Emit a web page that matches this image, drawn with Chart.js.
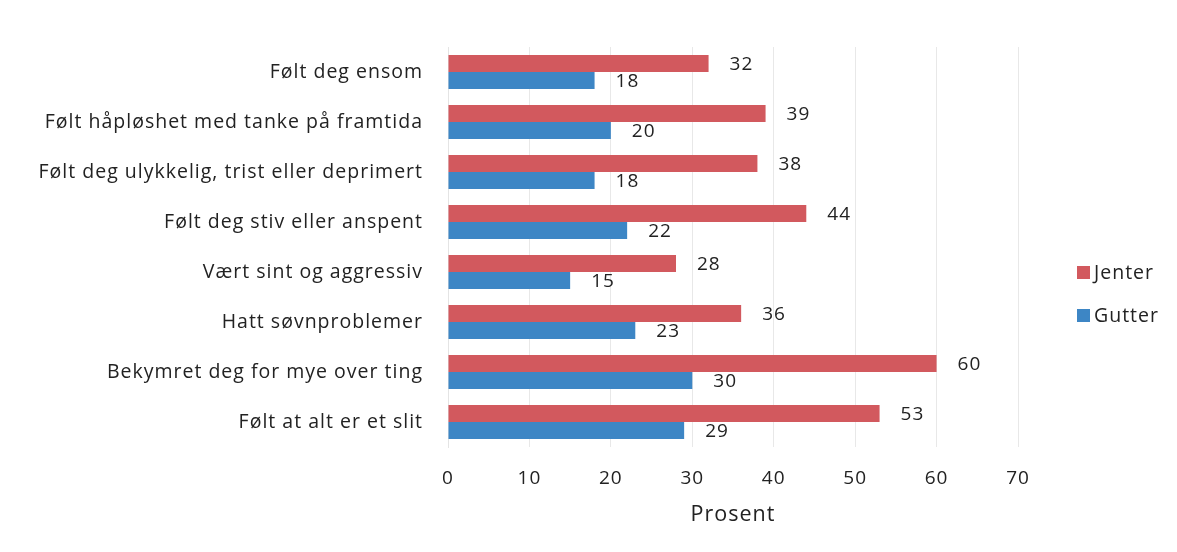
<!DOCTYPE html>
<html>
<head>
<meta charset="utf-8">
<script src="https://cdn.jsdelivr.net/npm/chart.js@4/dist/chart.umd.min.js"></script>
<style>
  html, body { margin: 0; padding: 0; background: #fff; }
  #wrap { width: 1177px; height: 552px; }
</style>
</head>
<body>
<div id="wrap"><canvas id="chart" width="1177" height="552"></canvas></div>
<script>
// kategorier og verdier
const kategorier = [
    'Følt deg ensom',
    'Følt håpløshet med tanke på framtida',
    'Følt deg ulykkelig, trist eller deprimert',
    'Følt deg stiv eller anspent',
    'Vært sint og aggressiv',
    'Hatt søvnproblemer',
    'Bekymret deg for mye over ting',
    'Følt at alt er et slit'
];
const jenter = [32, 39, 38, 44, 28, 36, 60, 53];
const gutter = [18, 20, 18, 22, 15, 23, 30, 29];
const xTicks = [0, 10, 20, 30, 40, 50, 60, 70];

const fontFam = '"Open Sans", "Noto Sans", sans-serif';
const tekstFarge = '#222';

// litt bredere skrift, originalen er en strukket skanning
const bokstavAvstand = {
    id: 'bokstavAvstand',
    beforeUpdate(chart) { chart.ctx.letterSpacing = '1px'; },
    beforeDraw(chart) { chart.ctx.letterSpacing = '1px'; }
};

// tall ved enden av hver stolpe
const verdiEtiketter = {
    id: 'verdiEtiketter',
    afterDatasetsDraw(chart) {
        const ctx = chart.ctx;
        ctx.save();
        ctx.font = '19px ' + fontFam;
        ctx.fillStyle = tekstFarge;
        ctx.textAlign = 'left';
        ctx.textBaseline = 'middle';
        chart.data.datasets.forEach((ds, i) => {
            chart.getDatasetMeta(i).data.forEach((bar, j) => {
                ctx.fillText(ds.data[j], bar.x + 21, bar.y + 1);
            });
        });
        ctx.restore();
    }
};

// egen tegnforklaring til høyre
const tegnforklaring = {
    id: 'tegnforklaring',
    afterDraw(chart) {
        const ctx = chart.ctx;
        ctx.save();
        ctx.font = '19.5px ' + fontFam;
        ctx.textAlign = 'left';
        ctx.textBaseline = 'middle';
        const x = chart.chartArea.right + 59;
        chart.data.datasets.forEach((ds, i) => {
            const y = 272 + i * 43;
            ctx.fillStyle = ds.backgroundColor;
            ctx.fillRect(x, y - 6, 13, 13);
            ctx.fillStyle = tekstFarge;
            ctx.fillText(ds.label, x + 17, y + 1);
        });
        ctx.restore();
    }
};

new Chart(document.getElementById('chart'), {
    type: 'bar',
    data: {
        labels: kategorier,
        datasets: [{
            label: 'Jenter',
            data: jenter,
            backgroundColor: '#d2595e'
        }, {
            label: 'Gutter',
            data: gutter,
            backgroundColor: '#3d86c5'
        }]
    },
    options: {
        indexAxis: 'y',
        responsive: false,
        animation: false,
        layout: { padding: { top: 47, left: 10, right: 159, bottom: 21 } },
        datasets: { bar: { barPercentage: 1, categoryPercentage: 0.68 } },
        plugins: {
            legend: { display: false },
            tooltip: { enabled: false }
        },
        scales: {
            x: {
                min: 0,
                max: 70,
                afterBuildTicks: s => { s.ticks = xTicks.map(v => ({ value: v })); },
                afterFit: s => { s.height = 84; },
                grid: { color: '#e8e8e8', drawTicks: false },
                border: { display: false },
                ticks: { color: tekstFarge, padding: 20, font: { size: 19, family: fontFam } },
                title: { display: true, text: 'Prosent', color: tekstFarge, padding: { top: 0, bottom: 3 }, font: { size: 21.5, family: fontFam } }
            },
            y: {
                afterFit: s => { s.width = 438; },
                grid: { display: false },
                border: { color: '#e4e4e4' },
                ticks: { color: tekstFarge, padding: 17, font: { size: 19.5, family: fontFam } }
            }
        }
    },
    plugins: [bokstavAvstand, verdiEtiketter, tegnforklaring]
});
</script>
</body>
</html>
